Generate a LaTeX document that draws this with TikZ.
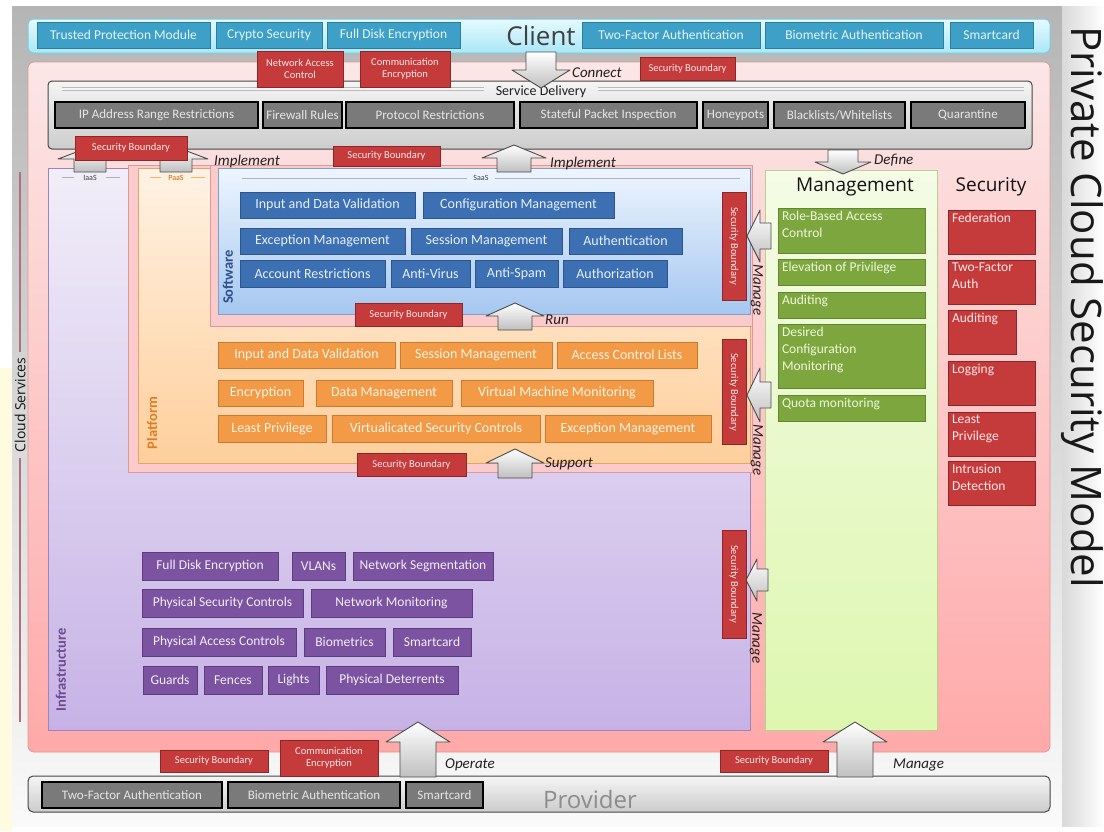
\documentclass[tikz,border=0pt]{standalone}
\usepackage{fontspec}
\setmainfont{Carlito}
\newfontfamily\osans{Open Sans}
\definecolor{clfill}{HTML}{3EA0C6}\definecolor{cldraw}{HTML}{2A7E9E}\definecolor{cltext}{HTML}{E2F5FC}
\definecolor{svfill}{HTML}{7A7A7A}\definecolor{svtext}{HTML}{E6E6E6}
\definecolor{rdfill}{HTML}{C53B3B}\definecolor{rddraw}{HTML}{8E2626}\definecolor{rdtext}{HTML}{FFE8E8}
\definecolor{blfill}{HTML}{3D70B2}\definecolor{bldraw}{HTML}{2A5590}\definecolor{bltext}{HTML}{E6EFFF}
\definecolor{ogfill}{HTML}{F29A45}\definecolor{ogdraw}{HTML}{CF782E}\definecolor{ogtext}{HTML}{FFF3E4}
\definecolor{pufill}{HTML}{7C53A0}\definecolor{pudraw}{HTML}{5D3D80}\definecolor{putext}{HTML}{F3EDFA}
\definecolor{gnfill}{HTML}{7EA63F}\definecolor{gndraw}{HTML}{5C8A2C}\definecolor{gntext}{HTML}{EEF8DC}
\definecolor{pinkA}{HTML}{FCE6E6}\definecolor{pinkB}{HTML}{FFA9A9}\definecolor{pinkF}{HTML}{FBCACA}\definecolor{pinkD}{HTML}{D99A9A}
\definecolor{cyanA}{HTML}{E6FAFF}\definecolor{cyanB}{HTML}{A9E7F7}\definecolor{cyanD}{HTML}{7CC9E0}
\definecolor{infA}{HTML}{F1EEF9}\definecolor{infB}{HTML}{C7B2E6}\definecolor{infD}{HTML}{9A86B8}
\definecolor{plA}{HTML}{FFF2E4}\definecolor{plB}{HTML}{FFCF9C}\definecolor{plD}{HTML}{E3A56C}
\definecolor{swA}{HTML}{EEF5FF}\definecolor{swB}{HTML}{A6C7F0}\definecolor{swD}{HTML}{7EA0CC}
\definecolor{mgA}{HTML}{F5FBE6}\definecolor{mgB}{HTML}{DDF7B0}\definecolor{mgD}{HTML}{B9CF8E}
\definecolor{yelbg}{HTML}{FFFBE0}\definecolor{csline}{HTML}{B07080}
\definecolor{swlbl}{HTML}{2D4F8A}\definecolor{pllbl}{HTML}{E07F22}\definecolor{inlbl}{HTML}{6A4A90}
\tikzset{
 bx/.style={draw, line width=0.8pt, align=center, inner sep=2pt, outer sep=0pt},
 cl/.style={bx, fill=clfill, draw=cldraw, text=cltext, font=\fontsize{13.5}{15}\selectfont},
 sv/.style={bx, fill=svfill, draw=black, line width=1.4pt, text=svtext, font=\fontsize{13}{15}\selectfont},
 rd/.style={bx, fill=rdfill, draw=rddraw, text=rdtext, font=\fontsize{10.5}{12}\selectfont},
 bl/.style={bx, fill=blfill, draw=bldraw, text=bltext, font=\fontsize{14}{15}\selectfont},
 og/.style={bx, fill=ogfill, draw=ogdraw, text=ogtext, font=\fontsize{14}{15}\selectfont},
 pu/.style={bx, fill=pufill, draw=pudraw, text=putext, font=\fontsize{13.5}{15}\selectfont},
 gn/.style={bx, fill=gnfill, draw=gndraw, text=gntext, font=\fontsize{13.5}{17}\selectfont},
 sc/.style={bx, fill=rdfill, draw=rddraw, text=rdtext, font=\fontsize{13.5}{17}\selectfont},
 verb/.style={font=\fontsize{15}{16}\selectfont\itshape, text=gray!25!black, inner sep=0pt},
 lay/.style={font=\bfseries\fontsize{14.5}{15}\selectfont, inner sep=0pt, rotate=90},
 tag/.style={font=\fontsize{8}{9}\selectfont, inner sep=1pt},
 blk/.style={draw=gray!60!black, line width=0.9pt, top color=white, bottom color=gray!50, line join=round},
}
\newcommand\boxat[7]{\node[#1, minimum width={(#5)-(#3)}, minimum height={(#6)-(#4)}] (#2) at ({((#3)+(#5))/2},{((#4)+(#6))/2}) {#7};}
\newcommand\tlbox[7]{\node[#1, anchor=north west, inner xsep=4pt, inner ysep=3pt, align=left] (#2) at (#3,#4) {\parbox[t][\dimexpr #6pt-#4pt-6pt\relax][t]{\dimexpr #5pt-#3pt-8pt\relax}{\raggedright #7}};}
% #1 name, #2 cx, #3 tip y, #4 tail y, #5 half shaft, #6 half head, #7 head length
\newcommand\arrup[7]{\draw[blk] (#2,#3) coordinate (#1) -- ({#2+#6},{#3+#7}) -- ({#2+#5},{#3+#7}) -- ({#2+#5},#4) -- ({#2-#5},#4) -- ({#2-#5},{#3+#7}) -- ({#2-#6},{#3+#7}) -- cycle;}
\newcommand\arrdown[7]{\draw[blk] (#2,#3) coordinate (#1) -- ({#2+#6},{#3-#7}) -- ({#2+#5},{#3-#7}) -- ({#2+#5},#4) -- ({#2-#5},#4) -- ({#2-#5},{#3-#7}) -- ({#2-#6},{#3-#7}) -- cycle;}
% #1 name, #2 cy, #3 tip x, #4 tail x, #5 half shaft, #6 half head, #7 head length
\newcommand\arrleft[7]{\draw[blk] (#3,#2) coordinate (#1) -- ({#3+#7},{#2-#6}) -- ({#3+#7},{#2-#5}) -- (#4,{#2-#5}) -- (#4,{#2+#5}) -- ({#3+#7},{#2+#5}) -- ({#3+#7},{#2+#6}) -- cycle;}
\begin{document}
\begin{tikzpicture}[x=1pt,y=-1pt]
\useasboundingbox (0,0) rectangle (1104,831);
% background
\fill[white] (0,0) rectangle (1104,831);
\fill[yelbg] (0,368) rectangle (12,831);
\shade[top color=gray!58, bottom color=gray!4] (12,6) rectangle (1062,826);
\shade[left color=gray!30, right color=white] (1062,6) rectangle (1104,826);
% cloud services side label
\draw[csline, line width=1.6pt] (20,172) -- (20,352);
\draw[csline, line width=1.6pt] (20,458) -- (20,722);
\node[font={\osans\fontsize{14}{15}\selectfont}, text=gray!15!black, rotate=90, inner sep=0pt] (cloudsvc) at (20,405) {Cloud Services};
% title
\node[font={\osans\fontsize{42}{46}\selectfont}, text=black!90, rotate=-90, inner sep=0pt] (title) at (1082,307) {Private Cloud Security Model};
% main pink area
\draw[rounded corners=6pt, top color=pinkA, bottom color=pinkB, draw=pinkD, line width=0.8pt] (28,62) rectangle (1050,752);
% client bar
\draw[rounded corners=5pt, top color=cyanA, bottom color=cyanB, draw=cyanD, line width=1pt] (28,19) rectangle (1050,53);
\node[font={\osans\fontsize{26}{28}\selectfont}, text=gray!50!black, inner sep=0pt] (client) at (541,36) {Client};
\boxat{cl}{c1}{37}{22}{210}{48}{Trusted Protection Module}
\boxat{cl}{c2}{216}{22}{322}{48}{Crypto Security}
\boxat{cl}{c3}{327}{22}{460}{48}{Full Disk Encryption}
\boxat{cl}{c4}{582}{22}{760}{48}{Two-Factor Authentication}
\boxat{cl}{c5}{765}{22}{943}{48}{Biometric Authentication}
\boxat{cl}{c6}{950}{22}{1033}{48}{Smartcard}
% service delivery
\draw[rounded corners=4pt, top color=gray!8, bottom color=gray!40, draw=gray!55!black, line width=1pt] (48,81) rectangle (1032,149);
\draw[gray!55, line width=3.5pt] (62,89) -- (484,89);
\draw[gray!8, line width=1.5pt] (62,89) -- (484,89);
\draw[gray!55, line width=3.5pt] (598,89) -- (1024,89);
\draw[gray!8, line width=1.5pt] (598,89) -- (1024,89);
\node[font=\fontsize{14}{15}\selectfont, text=gray!25!black, inner sep=0pt] (sdtitle) at (541,92) {Service Delivery};
\boxat{sv}{s1}{55}{102}{258}{128}{IP Address Range Restrictions}
\boxat{sv}{s2}{263}{102}{342}{128}{Firewall Rules}
\boxat{sv}{s3}{346}{102}{514}{128}{Protocol Restrictions}
\boxat{sv}{s4}{520}{102}{697}{128}{Stateful Packet Inspection}
\boxat{sv}{s5}{703}{102}{768}{128}{Honeypots}
\boxat{sv}{s6}{774}{102}{905}{128}{Blacklists/Whitelists}
\boxat{sv}{s7}{911}{102}{1025}{128}{Quarantine}
% layers
\draw[top color=infA, bottom color=infB, draw=infD, line width=0.8pt] (48,168) rectangle (750,730);
\draw[fill=pinkF, draw=pinkD, line width=0.8pt] (128,165) rectangle (752,472);
\draw[top color=plA, bottom color=plB, draw=plD, line width=0.8pt] (138,168) rectangle (750,463);
\draw[fill=pinkF, draw=pinkD, line width=0.8pt] (210,165) rectangle (752,326);
\draw[top color=swA, bottom color=swB, draw=swD, line width=0.8pt] (218,168) rectangle (750,314);
\draw[top color=mgA, bottom color=mgB, draw=mgD, line width=0.8pt] (765,170) rectangle (937,730);
% tags
\draw[gray!60, line width=0.8pt] (62,177) -- (74,177) (106,177) -- (120,177);
\node[tag, text=gray!50!black] (iaas) at (90,178) {IaaS};
\draw[orange!60, line width=0.8pt] (150,177) -- (161,177) (191,177) -- (205,177);
\node[tag, text=orange!80!black] (paas) at (176,178) {PaaS};
\draw[gray!60, line width=0.8pt] (242,178) -- (467,178) (495,178) -- (740,178);
\node[tag, text=gray!50!black] (saas) at (481,178) {SaaS};
\node[lay, text=swlbl] (swl) at (228,277) {Software};
\node[lay, text=pllbl] (pll) at (152,423) {Platform};
\node[lay, text=inlbl] (infl) at (61,670) {Infrastructure};
% software
\boxat{bl}{w1}{240}{192}{415}{218}{Input and Data Validation}
\boxat{bl}{w2}{423}{192}{614}{218}{Configuration Management}
\boxat{bl}{w3}{240}{228}{405}{254}{Exception Management}
\boxat{bl}{w4}{411}{228}{562}{254}{Session Management}
\boxat{bl}{w5}{569}{228}{682}{254}{Authentication}
\boxat{bl}{w6}{240}{260}{385}{287}{Account Restrictions}
\boxat{bl}{w7}{391}{260}{470}{287}{Anti-Virus}
\boxat{bl}{w8}{475}{260}{558}{287}{Anti-Spam}
\boxat{bl}{w9}{563}{260}{667}{287}{Authorization}
% platform
\boxat{og}{o1}{218}{342}{395}{368}{Input and Data Validation}
\boxat{og}{o2}{400}{342}{552}{368}{Session Management}
\boxat{og}{o3}{557}{342}{697}{368}{Access Control Lists}
\boxat{og}{o4}{218}{380}{303}{406}{Encryption}
\boxat{og}{o5}{316}{380}{452}{406}{Data Management}
\boxat{og}{o6}{461}{380}{653}{406}{Virtual Machine Monitoring}
\boxat{og}{o7}{218}{415}{326}{442}{Least Privilege}
\boxat{og}{o8}{332}{415}{540}{442}{Virtualicated Security Controls}
\boxat{og}{o9}{545}{415}{711}{442}{Exception Management}
% infrastructure
\boxat{pu}{i1}{142}{552}{278}{580}{Full Disk Encryption}
\boxat{pu}{i2}{292}{552}{345}{580}{VLANs}
\boxat{pu}{i3}{353}{552}{493}{580}{Network Segmentation}
\boxat{pu}{i4}{142}{589}{303}{617}{Physical Security Controls}
\boxat{pu}{i5}{311}{589}{472}{617}{Network Monitoring}
\boxat{pu}{i6}{142}{628}{296}{656}{Physical Access Controls}
\boxat{pu}{i7}{304}{628}{385}{656}{Biometrics}
\boxat{pu}{i8}{393}{628}{471}{656}{Smartcard}
\boxat{pu}{i9}{143}{666}{197}{694}{Guards}
\boxat{pu}{i10}{204}{666}{262}{694}{Fences}
\boxat{pu}{i11}{268}{666}{319}{694}{Lights}
\boxat{pu}{i12}{326}{666}{458}{694}{Physical Deterrents}
% management
\node[font={\osans\fontsize{19}{22}\selectfont}, text=gray!15!black, inner sep=0pt] (mgtitle) at (855,187) {Management};
\tlbox{gn}{m1}{778}{208}{925}{253}{Role-Based Access\\Control}
\tlbox{gn}{m2}{778}{259}{925}{285}{Elevation of Privilege}
\tlbox{gn}{m3}{778}{292}{925}{318}{Auditing}
\tlbox{gn}{m4}{778}{324}{925}{388}{Desired\\Configuration\\Monitoring}
\tlbox{gn}{m5}{778}{395}{925}{421}{Quota monitoring}
% security
\node[font={\osans\fontsize{19}{22}\selectfont}, text=gray!15!black, inner sep=0pt] (sectitle) at (991,187) {Security};
\tlbox{sc}{x1}{948}{210}{1035}{254}{Federation}
\tlbox{sc}{x2}{948}{260}{1035}{304}{Two-Factor\\Auth}
\tlbox{sc}{x3}{948}{310}{1016}{354}{Auditing}
\tlbox{sc}{x4}{948}{361}{1035}{405}{Logging}
\tlbox{sc}{x5}{948}{412}{1035}{456}{Least\\Privilege}
\tlbox{sc}{x6}{948}{461}{1035}{505}{Intrusion\\Detection}
% provider
\draw[rounded corners=5pt, top color=gray!8, bottom color=gray!40, draw=gray!55!black, line width=1pt] (28,776) rectangle (1050,812);
\node[font={\osans\fontsize{24}{26}\selectfont}, text=black!45, inner sep=0pt] (provider) at (590,799) {Provider};
\boxat{sv}{p1}{42}{782}{222}{808}{Two-Factor Authentication}
\boxat{sv}{p2}{228}{782}{400}{808}{Biometric Authentication}
\boxat{sv}{p3}{406}{782}{483}{808}{Smartcard}
% block arrows
\arrdown{aconn}{541}{88}{52}{15}{29}{18}
\arrup{aimpI}{90}{147}{172}{16}{32}{12}
\arrup{aimpP}{176}{147}{172}{16}{32}{12}
\arrup{aimpS}{514}{145}{172}{17}{32}{13}
\arrdown{adef}{843}{174}{150}{15}{28}{12}
\arrup{arun}{515}{303}{330}{17}{29}{13}
\arrup{asup}{515}{449}{478}{17}{29}{14}
\arrup{aop}{418}{722}{777}{18}{32}{20}
\arrup{amgb}{855}{722}{777}{18}{32}{20}
\arrleft{amg1}{236}{747}{771}{13}{26}{13}
\arrleft{amg2}{395}{747}{771}{13}{27}{13}
\arrleft{amg3}{580}{746}{768}{11}{21}{11}
% red boxes
\boxat{rd}{r1}{257}{51}{343}{87}{Network Access\\Control}
\boxat{rd}{r2}{360}{51}{450}{87}{Communication\\Encryption}
\boxat{rd}{r3}{640}{57}{735}{80}{Security Boundary}
\boxat{rd}{r4}{75}{136}{187}{160}{Security Boundary}
\boxat{rd}{r5}{333}{146}{440}{166}{Security Boundary}
\boxat{rd}{r6}{355}{303}{462}{326}{Security Boundary}
\boxat{rd}{r7}{357}{453}{466}{476}{Security Boundary}
\boxat{rd}{r8}{160}{750}{268}{772}{Security Boundary}
\boxat{rd}{r9}{280}{740}{378}{776}{Communication\\Encryption}
\boxat{rd}{r10}{720}{750}{828}{772}{Security Boundary}
\node[rd, rotate=-90, minimum width=108, minimum height=24] (v1) at (734,246) {Security Boundary};
\node[rd, rotate=-90, minimum width=105, minimum height=24] (v2) at (734,392) {Security Boundary};
\node[rd, rotate=-90, minimum width=108, minimum height=24] (v3) at (734,584) {Security Boundary};
% verbs
\node[verb, anchor=west] (tconn) at (572,73) {Connect};
\node[verb, anchor=west] (timp1) at (214,161) {Implement};
\node[verb, anchor=west] (timp2) at (550,163) {Implement};
\node[verb, anchor=west] (tdef) at (874,160) {Define};
\node[verb, anchor=west] (trun) at (545,320) {Run};
\node[verb, anchor=west] (tsup) at (545,464) {Support};
\node[verb, anchor=west] (toper) at (445,765) {Operate};
\node[verb, anchor=west] (tmgb) at (893,765) {Manage};
\node[verb, rotate=-90] (tm1) at (757,290) {Manage};
\node[verb, rotate=-90] (tm2) at (757,450) {Manage};
\node[verb, rotate=-90] (tm3) at (756,638) {Manage};
\end{tikzpicture}
\end{document}
